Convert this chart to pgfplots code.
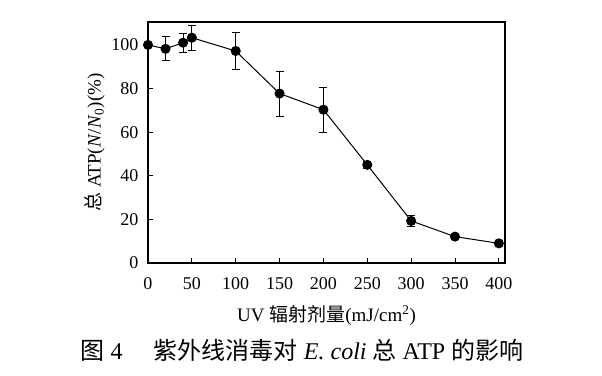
\documentclass[border=0pt]{standalone}
\usepackage{pgfplots}
\pgfplotsset{compat=1.18}
\usepackage{fontspec}
\setmainfont{Liberation Serif}
\newfontfamily\cjk{Noto Sans CJK SC}
\begin{document}
\begin{tikzpicture}
\useasboundingbox (-148bp,-113bp) rectangle (454bp,263bp);
\begin{axis}[
  at={(0,0)}, anchor=south west,
  scale only axis, width=357bp, height=241bp,
  xmin=0, xmax=407, ymin=0, ymax=110.5,
  xtick={0,50,...,400}, ytick={0,20,...,100},
  tick align=inside, xtick pos=bottom, ytick pos=left,
  major tick length=5bp,
  tick style={black, line width=0.8bp},
  axis line style={line width=1.3bp},
  tick label style={font=\fontsize{18bp}{20bp}\selectfont},
  xticklabel style={yshift=-11bp},
  yticklabel style={xshift=-6bp},
  /pgf/number format/assume math mode=true,
  xlabel={UV {\cjk 辐射剂量}(mJ/cm\textsuperscript{2})},
  ylabel={{\cjk 总} ATP(\textit{N}/\textit{N}\textsubscript{0})(\%)},
  xlabel style={font=\fontsize{19bp}{21bp}\selectfont, yshift=-9bp},
  ylabel style={font=\fontsize{19bp}{21bp}\selectfont, yshift=0bp},
  clip=false,
]
\addplot[black, line width=1bp, mark=*, mark size=4.5bp,
  error bars/.cd, y dir=both, y explicit,
  error bar style={line width=0.8bp},
  error mark=|,
  error mark options={black, mark size=4bp, line width=0.8bp}]
coordinates {
(0,100) +- (0,0)
(20,98.2) +- (0,5.5)
(40,101) +- (0,4.5)
(50,103.3) +- (0,5.7)
(100,97.2) +- (0,8.6)
(150,77.7) +- (0,10.3)
(200,70.3) +- (0,10.4)
(250,45) +- (0,1.5)
(300,19.3) +- (0,2.5)
(350,12.1) +- (0,1)
(400,9) +- (0,1.5)
};
\end{axis}
\node[font=\fontsize{24bp}{26bp}\selectfont] at (154bp,-87bp) {{\cjk 图} 4\hspace{1.3em}{\cjk 紫外线消毒对} \textit{E. coli} {\cjk 总} ATP {\cjk 的影响}};
\end{tikzpicture}
\end{document}
